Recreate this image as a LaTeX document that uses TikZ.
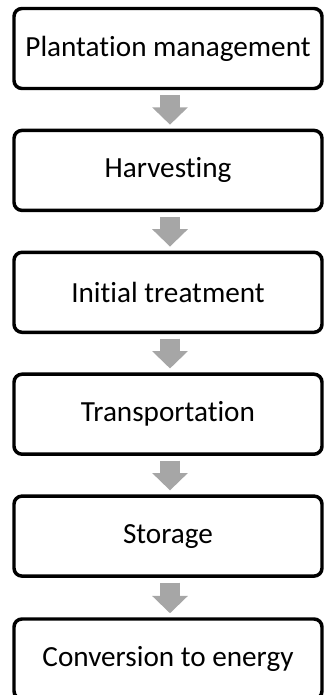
\documentclass[tikz,border=0pt]{standalone}
\usepackage{fontspec}
\setmainfont{Carlito}[Ligatures=NoCommon]
\usetikzlibrary{arrows.meta}

\tikzset{
  stagebox/.style={draw=black, line width=2.6pt, rounded corners=6pt, fill=white,
    minimum width=231pt, minimum height=60pt, inner sep=0pt,
    font=\fontsize{21.9}{26}\selectfont},
  flowarrow/.style={draw={rgb, 255:red, 166; green, 166; blue, 166}, line width=15pt,
    -{Triangle[width=26pt,length=13pt]}, shorten <=3.5pt, shorten >=3pt}
}

\begin{document}
\begin{tikzpicture}[x=0.75pt,y=0.75pt,yscale=-1,xscale=1]
\useasboundingbox (0,0) rectangle (324,695);

% Text Node
\node [stagebox] (plant) at (168,48.5) {Plantation management};
% Text Node
\node [stagebox] (harvest) at (168,170.4) {Harvesting};
% Text Node
\node [stagebox] (treat) at (168,292.3) {Initial treatment};
% Text Node
\node [stagebox] (transport) at (168,414.2) {Transportation};
% Text Node
\node [stagebox] (store) at (168,536.1) {Storage};
% Text Node
\node [stagebox] (convert) at (168,659) {Conversion to energy};

%Block Arrows
\draw [flowarrow] ([xshift=1.5pt]plant.south) -- ([xshift=1.5pt]harvest.north);
\draw [flowarrow] ([xshift=1.5pt]harvest.south) -- ([xshift=1.5pt]treat.north);
\draw [flowarrow] ([xshift=1.5pt]treat.south) -- ([xshift=1.5pt]transport.north);
\draw [flowarrow] ([xshift=1.5pt]transport.south) -- ([xshift=1.5pt]store.north);
\draw [flowarrow] ([xshift=1.5pt]store.south) -- ([xshift=1.5pt]convert.north);

\end{tikzpicture}
\end{document}
